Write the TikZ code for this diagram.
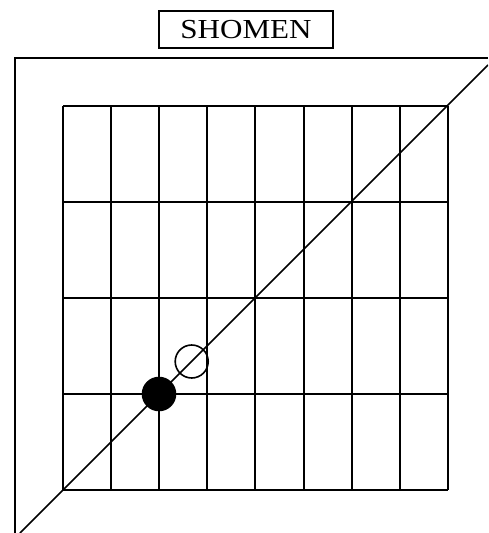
\documentclass[tikz,border=0pt]{standalone}
\usepackage{fontspec}
\setmainfont{Liberation Serif}[FakeStretch=1.13]
\begin{document}
\begin{tikzpicture}[x=1pt,y=-1pt,line width=1.6pt,
  stone/.style={circle,draw,minimum size=33pt,inner sep=0pt,line width=1.6pt},
  labelbox/.style={draw,line width=1.6pt,minimum width=174pt,minimum height=37pt,inner sep=0pt,font=\fontsize{27.5}{30}\selectfont}]
\useasboundingbox (0,0) rectangle (488,533);
\clip (0,0) rectangle (488,533);
% outer frame
\draw (15,533) -- (15,58) -- (488,58);
% grid
\foreach \x in {63,111,159,207,255,304,352,400,448} \draw (\x,106) -- (\x,490);
\foreach \y in {106,202,298,394,490} \draw (63,\y) -- (448,\y);
% diagonal
\coordinate (d1) at (20,533);
\coordinate (d2) at (488,65);
\draw (d1) -- (d2);
% stones
\node[stone,fill=black] (b) at (159,394) {};
\node[stone] (w) at (191.7,361.5) {};
% label
\node[labelbox,fill=white] (t) at (246,29.5) {SHOMEN};
\end{tikzpicture}
\end{document}
